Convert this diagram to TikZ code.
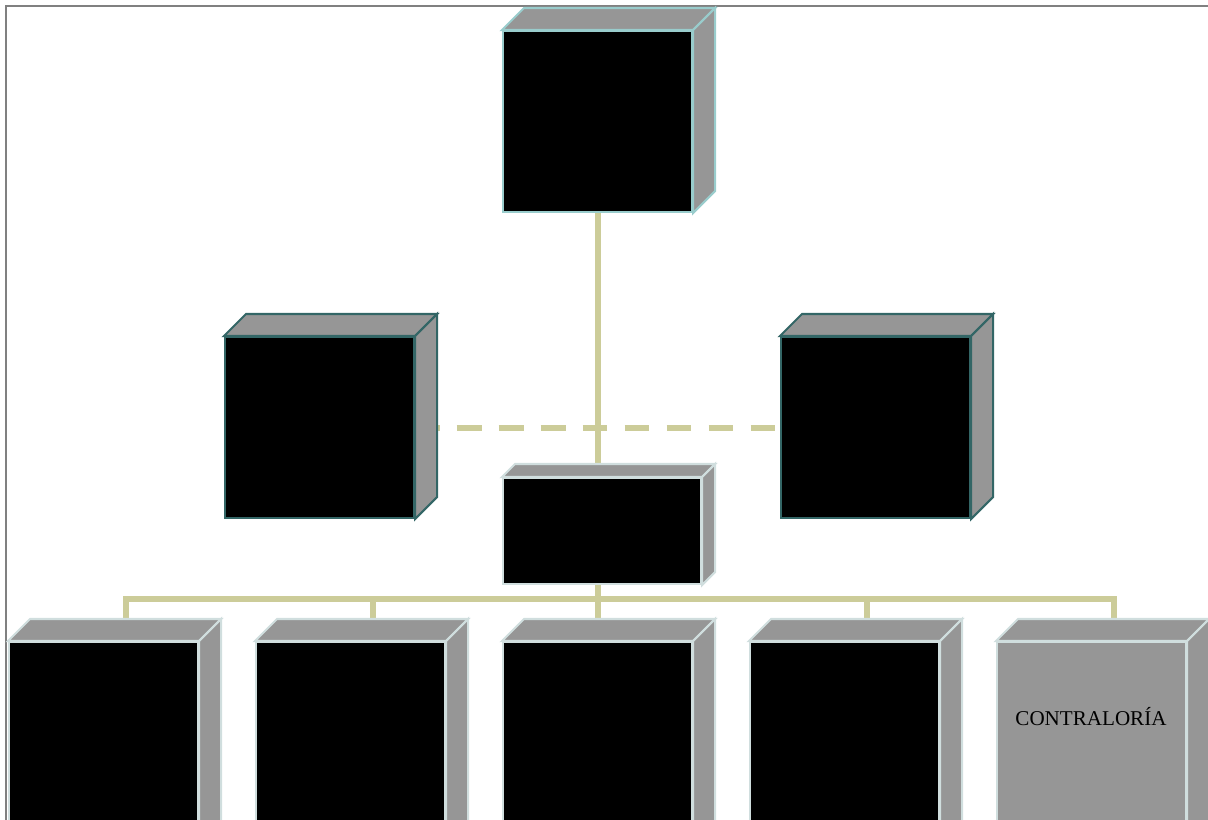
\documentclass[tikz,border=0pt]{standalone}
\usepackage{fontspec}
\setmainfont{Liberation Serif}
\usepackage{xcolor}
\usepackage{tikz}
\usetikzlibrary{calc}
\definecolor{oliva}{RGB}{204,204,153}
\definecolor{gris}{RGB}{150,150,150}
\definecolor{cian}{RGB}{153,204,204}
\definecolor{petroleo}{RGB}{51,102,102}
\definecolor{perla}{RGB}{208,222,222}
\definecolor{marco}{RGB}{128,128,128}
\pgfdeclarelayer{fondo}
\pgfsetlayers{fondo,main}

\begin{document}
\begin{tikzpicture}[
    x=0.02cm, y=-0.02cm,
    line width=1.2pt,
    every node/.style={font=\rmfamily\fontsize{12}{14}\selectfont},
    caja/.style={draw, fill=black, rectangle, inner sep=0pt, anchor=north west,
      minimum width=3.78cm, minimum height=3.62cm},
    cara/.style={fill=gris},
    linea/.style={draw=oliva, line width=3.4pt},
    punteado/.style={linea, dash pattern=on 14.2pt off 9.7pt, dash phase=12.8pt}
  ]
    \useasboundingbox (0,0) rectangle (1208,820);
    \clip (0,0) rectangle (1208,820);
    \draw[marco] (6,6) rectangle (1240,850);

    \node[caja, draw=cian] (dir) at (502,30) {};
    \node[caja, draw=petroleo] (izq) at (224,336) {};
    \node[caja, draw=petroleo] (der) at (780,336) {};
    \node[caja, draw=perla, minimum width=3.96cm, minimum height=2.12cm] (adm) at (502,477) {};
    \foreach \i/\x in {1/8,2/255,3/502,4/749}
      \node[caja, draw=perla, minimum height=4cm] (dep\i) at (\x,641) {};
    \node[caja, draw=perla, fill=gris, minimum height=4cm] (contra) at (996,641) {};
    \node (contrtxt) at (1091,717) {CONTRALORÍA};

    \foreach \n/\d/\c in {dir/22/cian, izq/22/petroleo, der/22/petroleo, adm/13/perla,
        dep1/22/perla, dep2/22/perla, dep3/22/perla, dep4/22/perla, contra/22/perla} {
      \draw[cara, draw=\c] (\n.north west) -- ++(\d,-\d) -- ($(\n.north east)+(\d,-\d)$)
        -- (\n.north east) -- cycle;
      \draw[cara, draw=\c] (\n.north east) -- ++(\d,-\d) -- ($(\n.south east)+(\d,-\d)$)
        -- (\n.south east) -- cycle;
    }

    \foreach \n in {dep1,dep2,dep4,contra}
      \coordinate (\n t) at ($(\n.north)+(22,0)$);
    \coordinate (bus) at ($(dir.south)+(0,386)$);

    \begin{pgfonlayer}{fondo}
      \draw[linea] (dir.south) -- (dir.south |- adm.north);
      \draw[punteado] ($(izq.east)+(22,0)$) -- (der.west);
      \draw[linea] (adm.south -| bus) -- (bus);
      \draw[linea] (dep1t) |- (bus) -| (contrat);
      \draw[linea] (bus) -- (dep3.north);
      \draw[linea] (dep2t) -- (dep2t |- bus);
      \draw[linea] (dep4t) -- (dep4t |- bus);
    \end{pgfonlayer}
  \end{tikzpicture}
\end{document}
